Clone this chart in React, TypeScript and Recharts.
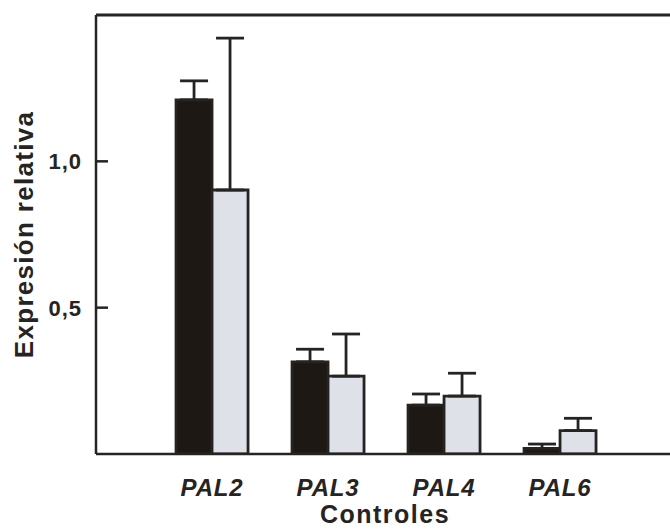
import { BarChart, Bar, XAxis, YAxis, ErrorBar, ReferenceLine } from 'recharts';

const categories = ['PAL2', 'PAL3', 'PAL4', 'PAL6'];
const darkMeans = [1.21, 0.315, 0.167, 0.019];
const darkErrors = [0.065, 0.043, 0.038, 0.015];
const lightMeans = [0.902, 0.266, 0.198, 0.08];
const lightErrors = [0.519, 0.144, 0.078, 0.042];
const yTicks = [0.5, 1.0];

const INK = '#262422';
const FONT = '"Liberation Sans", Arial, Helvetica, sans-serif';

// error bars only go up, so the lower part is zero
const data = categories.map((name, i) => ({
  name,
  dark: darkMeans[i],
  darkErr: [0, darkErrors[i]],
  light: lightMeans[i],
  lightErr: [0, lightErrors[i]],
}));

const fmt = (v: number) => v.toFixed(1).replace('.', ',');

// tick marks point into the plot, labels stay outside
function YTick({ x, y, payload }: any) {
  return (
    <g>
      <line x1={x + 14} x2={x + 26} y1={y} y2={y} stroke={INK} strokeWidth={2.5} />
      <text
        x={x}
        y={y}
        dy="0.36em"
        textAnchor="end"
        fontFamily={FONT}
        fontWeight="bold"
        fontSize={22}
        letterSpacing={1}
        fill={INK}
      >
        {fmt(payload.value)}
      </text>
    </g>
  );
}

function XTick({ x, y, payload }: any) {
  return (
    <text
      x={x}
      y={y}
      dy="0.71em"
      textAnchor="middle"
      fontFamily={FONT}
      fontWeight="bold"
      fontStyle="italic"
      fontSize={24}
      letterSpacing={0.8}
      fill={INK}
    >
      {payload.value}
    </text>
  );
}

function YLabel({ viewBox }: any) {
  const cx = viewBox.x + 33;
  const cy = viewBox.y + viewBox.height / 2;
  return (
    <text
      x={cx}
      y={cy}
      transform={`rotate(-90, ${cx}, ${cy})`}
      textAnchor="middle"
      fontFamily={FONT}
      fontWeight="bold"
      fontSize={26}
      letterSpacing={1.3}
      fill={INK}
    >
      Expresión relativa
    </text>
  );
}

function XLabel({ viewBox }: any) {
  return (
    <text
      x={viewBox.x + 289}
      y={viewBox.y + 69}
      textAnchor="middle"
      fontFamily={FONT}
      fontWeight="bold"
      fontSize={25}
      letterSpacing={1.5}
      fill={INK}
    >
      Controles
    </text>
  );
}

export default function App() {
  return (
    <div
      style={{
        position: 'fixed',
        left: 0,
        top: 0,
        width: 670,
        height: 530,
        overflow: 'hidden',
        background: '#ffffff',
      }}
    >
      <BarChart
        width={738}
        height={530}
        data={data}
        margin={{ top: 15, right: 20, left: 0, bottom: 26 }}
        barCategoryGap="19%"
        barGap={0}
      >
        <XAxis
          dataKey="name"
          height={50}
          padding={{ left: 58, right: 100 }}
          axisLine={{ stroke: INK, strokeWidth: 2.5 }}
          tickLine={false}
          tickSize={0}
          tickMargin={25}
          tick={<XTick />}
          interval={0}
          label={<XLabel />}
        />
        <YAxis
          width={96}
          domain={[0, 1.5]}
          ticks={yTicks}
          allowDataOverflow
          axisLine={{ stroke: INK, strokeWidth: 2.5 }}
          tickLine={false}
          tickSize={0}
          tickMargin={14}
          tick={<YTick />}
          label={<YLabel />}
        />
        <ReferenceLine y={1.5} stroke={INK} strokeWidth={3} />
        <Bar dataKey="dark" fill="#1d1813" stroke={INK} strokeWidth={2.8} isAnimationActive={false}>
          <ErrorBar dataKey="darkErr" width={14} stroke={INK} strokeWidth={2.8} direction="y" />
        </Bar>
        <Bar dataKey="light" fill="#dfe1e8" stroke={INK} strokeWidth={2.8} isAnimationActive={false}>
          <ErrorBar dataKey="lightErr" width={14} stroke={INK} strokeWidth={2.8} direction="y" />
        </Bar>
      </BarChart>
    </div>
  );
}
